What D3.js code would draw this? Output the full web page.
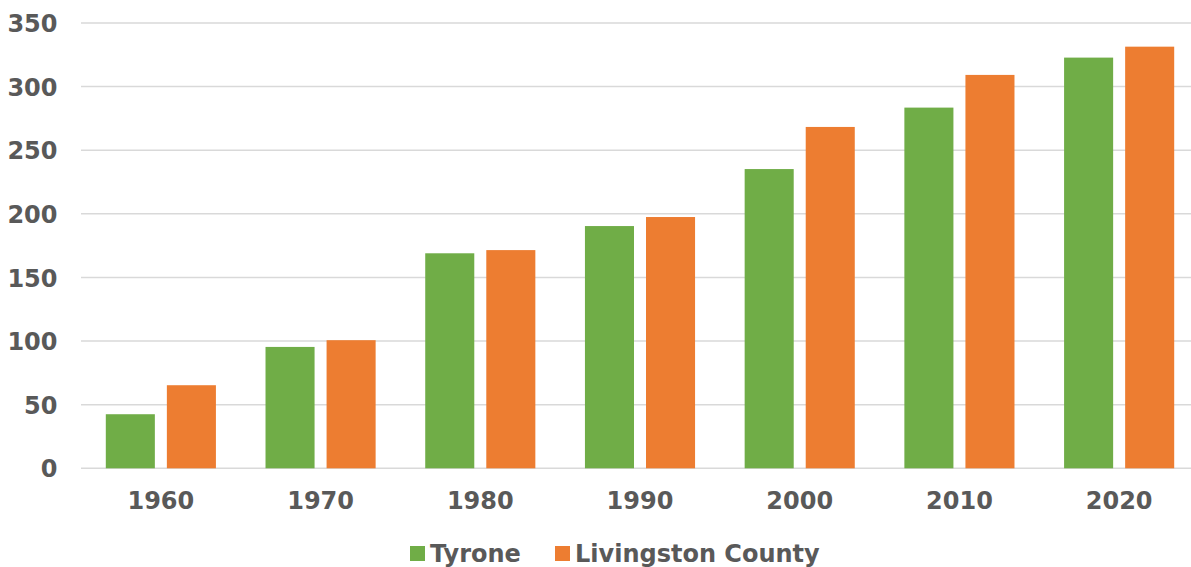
<!DOCTYPE html>
<html><head><meta charset="utf-8">
<script src="https://cdn.jsdelivr.net/npm/d3@7"></script>
<style>html,body{margin:0;padding:0;background:#fff;overflow:hidden}</style>
</head><body>
<svg id="c" width="1191" height="567"></svg>
<script>
const categories = ["1960","1970","1980","1990","2000","2010","2020"];
const seriesNames = ["Tyrone","Livingston County"];
const tyrone = [42.5, 95.4, 169, 190.4, 235.2, 283.5, 322.8];
const livingston = [65.3, 100.7, 171.5, 197.5, 268.3, 309.2, 331.4];
const yTicks = [0,50,100,150,200,250,300,350];
const colors = ["#70AD47","#ED7D31"];

(function(){
const svg = d3.select("#c");
const font = "'DejaVu Sans', Verdana, sans-serif";
const fs = 24;
const pLeft = 81, pRight = 1199, pTop = 23, pBottom = 468.3;

const x = d3.scaleBand().domain(categories).range([pLeft, pRight]).paddingInner(0).paddingOuter(0);
const x1 = d3.scaleBand().domain(seriesNames).range([24.8, x.bandwidth()-24.8]).paddingInner(12/61).paddingOuter(0);
const y = d3.scaleLinear().domain([0,350]).range([pBottom, pTop]);

svg.append("g").selectAll("line").data(yTicks).join("line")
  .attr("x1", pLeft).attr("x2", pRight)
  .attr("y1", d=>y(d)).attr("y2", d=>y(d))
  .attr("stroke","#d9d9d9").attr("stroke-width",1.5);

const yAxis = d3.axisLeft(y).tickValues(yTicks).tickSize(0).tickPadding(0);
const gy = svg.append("g").attr("transform",`translate(57.5,0)`).call(yAxis);
gy.select(".domain").remove();
gy.selectAll("text").attr("font-family",font).attr("font-weight","bold").attr("font-size",fs).attr("fill","#595959").attr("dy","0.36em");

const xAxis = d3.axisBottom(x).tickSize(0).tickPadding(0);
const gx = svg.append("g").attr("transform",`translate(0,${pBottom})`).call(xAxis);
gx.select(".domain").remove();
gx.selectAll("text").attr("font-family",font).attr("font-weight","bold").attr("font-size",fs).attr("fill","#595959").attr("dy","0").attr("y",41);

const data = categories.map((c,i)=>({c, vals:[tyrone[i], livingston[i]]}));
const groups = svg.append("g").selectAll("g").data(data).join("g")
  .attr("transform", d=>`translate(${x(d.c)},0)`);
groups.selectAll("rect").data(d=>d.vals.map((v,j)=>({v, s:seriesNames[j], j})))
  .join("rect")
  .attr("x", d=>x1(d.s)).attr("width", x1.bandwidth())
  .attr("y", d=>y(d.v)).attr("height", d=>pBottom - y(d.v))
  .attr("fill", d=>colors[d.j]);

const legendPos = [410, 555];
const lg = svg.append("g").selectAll("g").data(seriesNames).join("g")
  .attr("transform",(d,i)=>`translate(${legendPos[i]},546)`);
lg.append("rect").attr("width",15).attr("height",15).attr("fill",(d,i)=>colors[i]);
lg.append("text").attr("x",20).attr("y",16).text(d=>d)
  .attr("font-family",font).attr("font-weight","bold").attr("font-size",fs).attr("fill","#595959");
})();
</script>
</body></html>
